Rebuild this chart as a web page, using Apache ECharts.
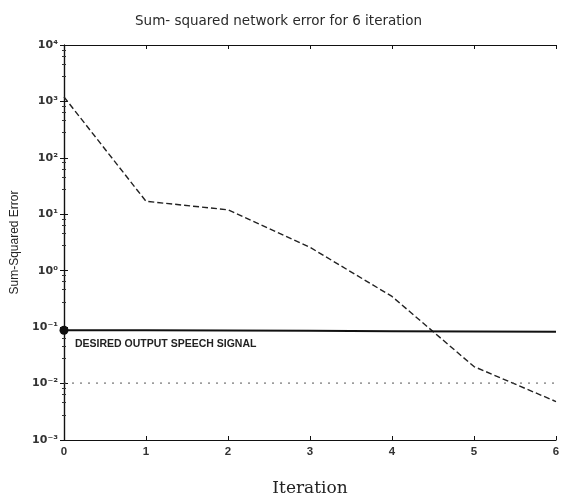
<!DOCTYPE html>
<html><head><meta charset="utf-8">
<script src="https://cdn.jsdelivr.net/npm/echarts@6/dist/echarts.min.js"></script>
<style>html,body{margin:0;padding:0;background:#fff}#c{width:565px;height:502px}</style>
</head><body><div id="c"></div>
<script>
const iterations = [0, 1, 2, 3, 4, 5, 6];
const sseValues = [1200, 17, 12, 2.6, 0.35, 0.02, 0.0048];
const goalLevel = [0.088, 0.088, 0.087, 0.086, 0.085, 0.084, 0.083];
const dottedLevel = [0.0102, 0.0102, 0.0102, 0.0102, 0.0102, 0.0102, 0.0102];
const xTicks = ['0', '1', '2', '3', '4', '5', '6'];
const yTickLabels = {'-3': '10⁻³', '-2': '10⁻²', '-1': '10⁻¹', '0': '10⁰', '1': '10¹', '2': '10²', '3': '10³', '4': '10⁴'};

const chart = echarts.init(document.getElementById('c'));
const pair = (ys) => iterations.map((x, i) => [x, ys[i]]);
const axisLine = {show: true, lineStyle: {color: '#111', width: 1.2}};
chart.setOption({
  animation: false,
  backgroundColor: '#fff',
  title: {text: 'Sum- squared network error for 6 iteration', left: 130, top: 9,
    textStyle: {fontFamily: 'DejaVu Sans', fontSize: 13.5, fontWeight: 'normal', color: '#2a2a2a'}},
  grid: {left: 64, right: 9, top: 45, bottom: 60},
  xAxis: [{
    type: 'value', min: 0, max: 6, interval: 1,
    name: 'Iteration', nameLocation: 'middle', nameGap: 40,
    nameTextStyle: {fontFamily: 'DejaVu Serif', fontSize: 17, color: '#222'},
    axisLine, axisTick: {inside: true, length: 4, lineStyle: {color: '#111'}},
    axisLabel: {fontFamily: 'Liberation Sans', fontSize: 11.5, fontWeight: 'bold', color: '#333', margin: 6,
      formatter: (v) => xTicks[v]},
    splitLine: {show: false}
  }, {
    type: 'value', position: 'top', min: 0, max: 6, interval: 1,
    axisLine, axisTick: {inside: true, length: 4, lineStyle: {color: '#111'}},
    axisLabel: {show: false}, splitLine: {show: false}
  }],
  yAxis: [{
    type: 'log', logBase: 10, min: 0.001, max: 10000,
    name: 'Sum-Squared Error', nameLocation: 'middle', nameGap: 42, nameRotate: 90,
    nameTextStyle: {fontFamily: 'Liberation Sans', fontSize: 12, color: '#222'},
    axisLine, axisTick: {inside: true, length: 4, lineStyle: {color: '#111'}},
    minorTick: {show: true, splitNumber: 5, length: 2, lineStyle: {color: '#333'}},
    axisLabel: {fontFamily: 'DejaVu Sans', fontSize: 11, fontWeight: 'bold', color: '#333', margin: 6,
      formatter: (v) => yTickLabels[String(Math.round(Math.log10(v)))] || ''},
    splitLine: {show: false}
  }, {
    type: 'log', logBase: 10, min: 0.001, max: 10000, position: 'right',
    axisLine, axisTick: {inside: true, length: 4, lineStyle: {color: '#111'}},
    minorTick: {show: true, splitNumber: 5, length: 2, lineStyle: {color: '#333'}},
    axisLabel: {show: false}, splitLine: {show: false}
  }],
  graphic: [{
    type: 'text', left: 75, top: 339,
    style: {text: 'DESIRED OUTPUT SPEECH SIGNAL', fontFamily: 'Liberation Sans', fontSize: 10.5, fontWeight: 'bold', fill: '#222'}
  }],
  series: [{
    type: 'line', data: pair(sseValues), symbol: 'none',
    lineStyle: {color: '#222', width: 1.4, type: [6, 3]}
  }, {
    type: 'line', data: pair(goalLevel), symbol: 'circle',
    symbolSize: (v, p) => p.dataIndex === 0 ? 9 : 0,
    itemStyle: {color: '#111'},
    lineStyle: {color: '#111', width: 2}
  }, {
    type: 'line', data: pair(dottedLevel), symbol: 'none',
    lineStyle: {color: '#555', width: 1, type: [2, 6]}
  }]
});
</script></body></html>
